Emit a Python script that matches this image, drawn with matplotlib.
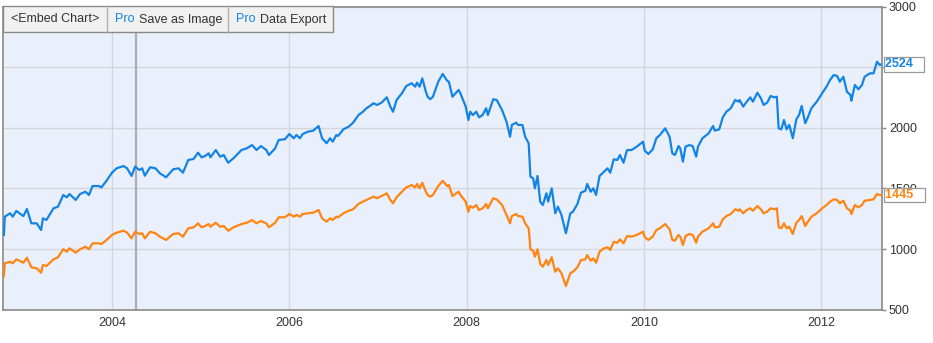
import matplotlib
matplotlib.use("Agg")
import matplotlib.pyplot as plt
from matplotlib.patches import Rectangle
from matplotlib.lines import Line2D

# ---------------- data ----------------
dates = [
    2002.78, 2002.79, 2002.85, 2002.88, 2002.92, 2003.00, 2003.04, 2003.09, 2003.15, 2003.20,
    2003.22, 2003.26, 2003.34, 2003.39, 2003.45, 2003.49, 2003.52, 2003.59, 2003.64, 2003.70,
    2003.74, 2003.78, 2003.85, 2003.88, 2003.93, 2004.00, 2004.05, 2004.13, 2004.17, 2004.22,
    2004.26, 2004.31, 2004.34, 2004.37, 2004.43, 2004.49, 2004.54, 2004.61, 2004.69, 2004.75,
    2004.80, 2004.86, 2004.92, 2004.97, 2005.01, 2005.05, 2005.09, 2005.11, 2005.17, 2005.22,
    2005.26, 2005.31, 2005.37,
    2005.46, 2005.52, 2005.58, 2005.63, 2005.68, 2005.74, 2005.77, 2005.84, 2005.88, 2005.95,
    2006.00, 2006.05, 2006.08, 2006.12, 2006.15, 2006.21, 2006.27, 2006.33, 2006.37, 2006.42,
    2006.46, 2006.49, 2006.53, 2006.55, 2006.61, 2006.67, 2006.72, 2006.78, 2006.83, 2006.87,
    2006.91, 2006.95, 2006.99,
    2007.04, 2007.10, 2007.14, 2007.17, 2007.21, 2007.27, 2007.32, 2007.38, 2007.42, 2007.44,
    2007.47, 2007.50, 2007.54, 2007.56, 2007.59, 2007.62, 2007.68, 2007.73, 2007.78, 2007.80,
    2007.84, 2007.91,
    2007.93, 2007.99,
    2008.02, 2008.04, 2008.07, 2008.11, 2008.14, 2008.18, 2008.22, 2008.24, 2008.30, 2008.34,
    2008.40, 2008.45, 2008.49, 2008.51, 2008.56, 2008.58, 2008.63, 2008.66, 2008.70, 2008.72,
    2008.75, 2008.77, 2008.80, 2008.83, 2008.86, 2008.90, 2008.92, 2008.96,
    2009.00, 2009.03, 2009.07, 2009.12, 2009.17, 2009.20, 2009.25, 2009.29, 2009.34, 2009.36,
    2009.40, 2009.43, 2009.46, 2009.50, 2009.55, 2009.59, 2009.62, 2009.66, 2009.70, 2009.73,
    2009.77, 2009.81, 2009.86, 2009.92, 2009.99,
    2010.01, 2010.05, 2010.10, 2010.14, 2010.18, 2010.24, 2010.29, 2010.32, 2010.35, 2010.39,
    2010.41, 2010.44, 2010.47, 2010.51, 2010.55, 2010.59, 2010.61, 2010.66, 2010.73, 2010.78,
    2010.80, 2010.85, 2010.89, 2010.93, 2010.98,
    2011.03, 2011.07, 2011.08, 2011.12, 2011.16, 2011.20, 2011.23, 2011.28, 2011.32, 2011.35,
    2011.39, 2011.43, 2011.47, 2011.50, 2011.52, 2011.55, 2011.58, 2011.61, 2011.64, 2011.68,
    2011.72, 2011.75, 2011.78, 2011.82, 2011.85, 2011.89, 2011.95,
    2012.01, 2012.06, 2012.10, 2012.14, 2012.18, 2012.21, 2012.25, 2012.29, 2012.33, 2012.34,
    2012.38, 2012.42, 2012.46, 2012.49, 2012.55, 2012.59, 2012.63, 2012.66, 2012.68,
]

series_blue = [
    1116, 1267, 1295, 1267, 1314, 1272, 1330, 1212, 1212, 1157,
    1253, 1240, 1336, 1349, 1446, 1427, 1454, 1405, 1454, 1473,
    1446, 1520, 1520, 1509, 1556, 1630, 1666, 1685, 1666, 1603,
    1680, 1652, 1666, 1605, 1675, 1666, 1625, 1592, 1658, 1666,
    1630, 1735, 1743, 1795, 1757, 1768, 1790, 1757, 1817, 1762,
    1776, 1712, 1749,
    1817, 1831, 1858, 1817, 1850, 1817, 1776, 1831, 1900, 1906,
    1949, 1914, 1941, 1914, 1949, 1968, 1977, 2015, 1914, 1873,
    1914, 1886, 1941, 1933, 1988, 2010, 2043, 2106, 2133, 2162,
    2181, 2203, 2189,
    2208, 2252, 2175, 2133, 2230, 2285, 2346, 2368, 2340, 2373,
    2340, 2409, 2299, 2257, 2236, 2257, 2381, 2445, 2389, 2381,
    2257, 2313,
    2285, 2175,
    2065, 2133, 2106, 2133, 2087, 2106, 2162, 2106, 2236, 2230,
    2147, 2051, 1927, 2024, 2043, 2024, 2024, 1927, 1873, 1597,
    1584, 1501, 1603, 1391, 1363, 1460, 1391, 1501,
    1295, 1349, 1281, 1130, 1295, 1308, 1372, 1465, 1481, 1537,
    1473, 1501, 1446, 1603, 1638, 1666, 1630, 1740, 1735, 1776,
    1712, 1817, 1817, 1845, 1886,
    1812, 1784, 1823, 1914, 1941, 1996, 1927, 1790, 1776, 1850,
    1831, 1721, 1845, 1858, 1850, 1762, 1845, 1914, 1955, 2015,
    1977, 1988, 2087, 2133, 2162,
    2230, 2216, 2230, 2175, 2216, 2252, 2216, 2290, 2244, 2189,
    2208, 2263, 2252, 2257, 1996, 1988, 2065, 1988, 2024, 1914,
    2071, 2106, 2181, 2038, 2087, 2162, 2216,
    2285, 2340, 2395, 2436, 2428, 2381, 2422, 2299, 2271, 2224,
    2354, 2318, 2354, 2422, 2450, 2450, 2546, 2519, 2524,
]

series_orange = [
    777, 882, 895, 882, 915, 887, 928, 849, 841, 804,
    868, 860, 915, 932, 998, 978, 1006, 970, 998, 1019,
    998, 1047, 1047, 1041, 1069, 1116, 1135, 1151, 1135, 1088,
    1143, 1124, 1130, 1088, 1143, 1130, 1102, 1075, 1124, 1130,
    1102, 1171, 1179, 1212, 1179, 1190, 1206, 1184, 1217, 1184,
    1190, 1151, 1179,
    1206, 1217, 1239, 1212, 1231, 1212, 1179, 1217, 1262, 1262,
    1289, 1267, 1281, 1267, 1289, 1295, 1300, 1322, 1253, 1226,
    1253, 1240, 1267, 1262, 1295, 1316, 1328, 1372, 1391, 1405,
    1419, 1432, 1419,
    1438, 1460, 1405, 1377, 1427, 1473, 1509, 1528, 1509, 1537,
    1501, 1547, 1473, 1446, 1432, 1446, 1520, 1564, 1520, 1528,
    1438, 1473,
    1446, 1391,
    1308, 1355, 1341, 1363, 1322, 1336, 1372, 1336, 1419, 1410,
    1363, 1281, 1212, 1272, 1289, 1272, 1267, 1212, 1171, 998,
    986, 937, 998, 876, 854, 909, 868, 932,
    813, 841, 800, 695, 800, 813, 849, 909, 915, 950,
    904, 923, 887, 978, 1006, 1014, 992, 1060, 1052, 1080,
    1047, 1107, 1102, 1116, 1143,
    1097, 1075, 1102, 1157, 1171, 1206, 1163, 1075, 1069, 1116,
    1102, 1033, 1107, 1124, 1116, 1052, 1102, 1143, 1171, 1212,
    1179, 1184, 1245, 1272, 1289,
    1328, 1316, 1328, 1295, 1322, 1336, 1316, 1355, 1328, 1295,
    1308, 1336, 1328, 1336, 1179, 1171, 1212, 1171, 1184, 1124,
    1217, 1239, 1272, 1190, 1226, 1267, 1295,
    1336, 1363, 1391, 1410, 1405, 1377, 1399, 1336, 1316, 1289,
    1363, 1344, 1363, 1399, 1405, 1410, 1454, 1446, 1445,
]

x_ticks = [2004, 2006, 2008, 2010, 2012]
x_tick_labels = ["2004", "2006", "2008", "2010", "2012"]
y_ticks = [500, 1000, 1500, 2000, 2500, 3000]
y_tick_labels = ["500", "1000", "1500", "2000", "2500", "3000"]
cursor_date = 2004.27
toolbar_items = [("", "<Embed Chart>"), ("Pro", "Save as Image"), ("Pro", "Data Export")]

# ---------------- style ----------------
BLUE = "#1384e6"
ORANGE = "#ff8412"
BG = "#eaf0fb"
GRID = "#d4d6da"
FRAME = "#8a8a8a"
TXT = "#333333"
NARROW = ["Liberation Sans Narrow", "Liberation Sans", "DejaVu Sans"]
SANS = ["Liberation Sans", "DejaVu Sans"]

W, H = 933, 343
fig = plt.figure(figsize=(W / 100, H / 100), dpi=100)
fig.patch.set_facecolor("white")

def fx(px):
    return px / W

def fy(py):
    return 1 - py / H

ax_l, ax_r, ax_t, ax_b = 3, 882, 6.7, 309.6
ax = fig.add_axes([fx(ax_l), fy(ax_b), fx(ax_r - ax_l), (ax_b - ax_t) / H])
ax.set_facecolor(BG)

ax.set_xlim(2002.77, 2012.686)
ax.set_ylim(500, 3000)

ax.set_axisbelow(True)
ax.grid(True, color=GRID, linewidth=1.0)
ax.set_xticks(x_ticks)
ax.set_xticklabels(x_tick_labels)
ax.yaxis.tick_right()
ax.set_yticks(y_ticks)
ax.set_yticklabels(y_tick_labels)
ax.tick_params(axis="x", length=0, pad=5, labelsize=9, labelcolor=TXT)
ax.tick_params(axis="y", length=3, width=1, color=FRAME, pad=2, labelsize=9, labelcolor=TXT)
for lab in ax.get_xticklabels() + ax.get_yticklabels():
    lab.set_family(NARROW)

for side in ["left", "right", "bottom", "top"]:
    ax.spines[side].set_color(FRAME)
    ax.spines[side].set_linewidth(1.2)

ax.axvline(cursor_date, color="#a9adb6", linewidth=1.6, zorder=1.5)

ax.plot(dates, series_blue, color=BLUE, linewidth=1.6, zorder=3)
ax.plot(dates, series_orange, color=ORANGE, linewidth=1.6, zorder=3)

for vals, col in [(series_blue, BLUE), (series_orange, ORANGE)]:
    ax.annotate(f"{vals[-1]}   ", xy=(1.0, vals[-1]), xycoords=("axes fraction", "data"),
                xytext=(2, 0), textcoords="offset points", ha="left", va="center",
                fontsize=9, fontweight="bold", color=col, family=SANS,
                bbox=dict(boxstyle="square,pad=0.1", fc="white", ec="#9a9a9a", lw=0.9),
                annotation_clip=False, zorder=5)

# ---------------- toolbar ----------------
tb_l, tb_r, tb_t, tb_b = 3, 333, 6, 31.5
fig.patches.append(Rectangle((fx(tb_l), fy(tb_b)), fx(tb_r - tb_l), (tb_b - tb_t) / H,
                             transform=fig.transFigure, facecolor="#f1f1f1",
                             edgecolor=FRAME, linewidth=1.0, zorder=10))
for sep in [107, 228]:
    fig.lines.append(Line2D([fx(sep), fx(sep)], [fy(tb_t), fy(tb_b)],
                            transform=fig.transFigure, color="#b0b0b0", lw=1.0, zorder=11))

ty = fy(19.5)
fig.text(fx(55), ty, toolbar_items[0][1], ha="center", va="center", fontsize=9,
         color=TXT, family=SANS, zorder=12)
fig.text(fx(115), ty, toolbar_items[1][0], ha="left", va="center", fontsize=9,
         color=BLUE, family=SANS, zorder=12)
fig.text(fx(139), ty, toolbar_items[1][1], ha="left", va="center", fontsize=9,
         color=TXT, family=SANS, zorder=12)
fig.text(fx(236), ty, toolbar_items[2][0], ha="left", va="center", fontsize=9,
         color=BLUE, family=SANS, zorder=12)
fig.text(fx(260), ty, toolbar_items[2][1], ha="left", va="center", fontsize=9,
         color=TXT, family=SANS, zorder=12)

fig.savefig("out.png", dpi=100, facecolor="white")
